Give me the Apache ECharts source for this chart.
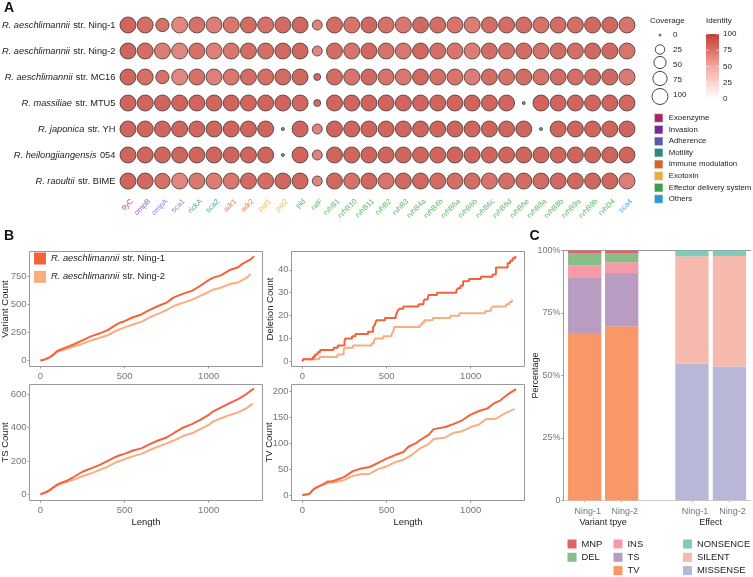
<!DOCTYPE html>
<html><head><meta charset="utf-8">
<style>html,body{margin:0;padding:0;background:#fff}#c{width:753px;height:577px}</style>
<script src="https://cdn.jsdelivr.net/npm/echarts@6/dist/echarts.min.js"></script>
</head><body><div id="c"></div>
<script>
const genes=['tlyC','ompB','ompA','sca1','rickA','sca2','adr1','adr2','pat1','pat2','pld','ralF','rvhB1','rvhB10','rvhB11','rvhB2','rvhB3','rvhB4a','rvhB4b','rvhB6a','rvhB6b','rvhB6c','rvhB6d','rvhB6e','rvhB8a','rvhB8b','rvhB9a','rvhB9b','rvhD4','sca4'];
const geneClass=[0,1,2,2,3,3,4,4,5,5,6,6,6,6,6,6,6,6,6,6,6,6,6,6,6,6,6,6,6,7];
const classNames=['Exoenzyme','Invasion','Adherence','Motility','Immune modulation','Exotoxin','Effector delivery system','Others'];
const classColors=['#a8246a','#74289a','#5a5aa8','#2a8a8a','#d9622b','#e3b13a','#3f9e4d','#2a9ad6'];
const labelColors=['#c0458c','#9a5cc8','#8f82d8','#4aa6a6','#ee7a45','#f0c050','#5cb868','#45aee6'];
const strainItalic=['R. aeschlimannii','R. aeschlimannii','R. aeschlimannii','R. massiliae','R. japonica','R. heilongjiangensis','R. raoultii'];
const strainRest=['str. Ning-1','str. Ning-2','str. MC16','str. MTU5','str. YH','054','str. BIME'];
const identity=[
[99,91,90,78,90,83,87,93,90,94,97,80,93,88,97,89,87,95,92,88,84,92,92,93,89,93,91,95,95,88],
[99,92,84,78,90,82,87,93,91,95,97,78,93,88,97,89,87,95,92,88,83,92,90,93,89,93,91,95,95,88],
[99,91,90,78,90,82,87,93,91,94,97,93,92,88,96,89,87,95,92,88,83,92,90,93,89,93,91,95,95,85],
[99,99,99,99,99,99,99,99,99,99,98,92,99,99,99,99,99,99,99,99,99,99,99,null,99,99,99,99,99,98],
[100,100,100,100,100,100,100,100,100,null,99,80,100,100,100,100,100,100,100,100,100,100,100,100,null,100,100,100,100,100],
[100,100,100,100,100,100,100,100,100,null,99,80,100,100,100,100,100,100,100,100,100,100,100,100,100,100,100,100,100,100],
[99,96,90,78,86,84,87,94,92,97,97,80,96,90,98,88,96,96,94,91,92,88,92,93,94,95,95,97,98,83]];
const coverage=[
[100,100,63,100,100,100,100,100,100,100,100,29,100,100,100,100,100,100,100,100,100,100,100,100,100,100,100,100,100,100],
[100,100,100,100,100,100,100,100,100,100,100,29,100,100,100,100,100,100,100,100,100,100,100,100,100,100,100,100,100,100],
[100,100,63,100,100,100,100,100,100,100,100,9,100,100,100,100,100,100,100,100,100,100,100,100,100,100,100,100,100,100],
[100,100,100,100,100,100,100,100,100,100,100,9,100,100,100,100,100,100,100,100,100,100,100,0,100,100,100,100,100,100],
[100,100,100,100,100,100,100,100,100,0,100,29,100,100,100,100,100,100,100,100,100,100,100,100,0,100,100,100,100,100],
[100,100,100,100,100,100,100,100,100,0,100,29,100,100,100,100,100,100,100,100,100,100,100,100,100,100,100,100,100,100],
[100,100,90,100,100,100,100,100,100,100,100,29,100,100,100,100,100,100,100,100,100,100,100,100,100,100,100,100,100,100]];
const coverageTicks=[0,25,50,75,100];
const identityTicks=[100,75,50,25,0];

const nameN1='R. aeschlimannii str. Ning-1', nameN2='R. aeschlimannii str. Ning-2';
const lenTicks=[0,500,1000];
const variantTicks=[0,250,500,750], deletionTicks=[0,10,20,30,40], tsTicks=[0,200,400,600], tvTicks=[0,50,100,150,200];
const varX1=[0,25,50,75,100,125,150,200,250,300,350,400,450,475,500,550,600,650,700,750,790,850,900,950,1000,1025,1075,1125,1175,1200,1250,1270];
const varY1=[0,10,25,50,85,100,115,145,180,215,240,270,320,338,350,385,410,450,485,515,560,595,620,665,715,735,760,805,830,860,900,928];
const varX2=[0,25,50,75,100,125,150,200,250,300,350,400,450,500,550,600,650,700,750,800,850,900,950,1000,1025,1075,1125,1175,1225,1250];
const varY2=[0,8,22,50,78,90,100,125,150,178,200,225,265,295,320,345,385,415,450,490,515,540,575,610,630,650,680,695,735,771];
const delX1=[0,5,63,75,90,105,185,210,250,255,295,315,390,420,430,440,490,555,560,565,575,600,690,720,725,745,750,800,915,925,940,955,990,1060,1130,1150,1220,1235,1250,1265];
const delY1=[0,1,2,3,4,5,6,7,9,10,11,12,13,15,16,18,19,20,21,22,23,24,25,26,27,28,29,30,31,32,33,35,36,37,38,41,43,44,45,46];
const delX2=[0,5,100,208,245,252,301,412,425,433,480,530,540,545,698,712,724,774,879,933,1087,1120,1131,1210,1230,1245];
const delY2=[0,1,2,3,5,6,7,8,9,10,11,12,13,15,16,17,18,19,20,21,22,23,24,25,26,27];
const tsX1=[0,25,50,75,100,125,150,200,250,300,350,400,450,475,500,550,600,650,700,750,800,850,900,950,1000,1025,1075,1125,1175,1225,1250,1270];
const tsY1=[0,10,22,40,58,70,78,105,135,155,175,200,225,235,242,262,275,300,322,340,370,400,420,445,475,495,520,545,570,600,620,632];
const tsX2=[0,25,50,75,100,125,150,200,250,300,350,400,450,500,550,600,650,700,750,800,850,900,950,1000,1025,1075,1125,1175,1225,1250,1262];
const tsY2=[0,8,20,40,55,65,72,88,108,125,145,165,192,210,228,242,265,285,305,325,350,365,390,415,435,455,475,490,515,535,542];
const tvX1=[0,40,50,60,75,100,125,150,175,200,250,300,350,400,450,500,550,600,630,675,700,750,780,850,900,950,1000,1050,1100,1140,1175,1225,1270];
const tvY1=[0,2,4,9,13,17,21,26,26,29,35,46,51,54,62,70,77,83,93,100,106,116,127,131,137,144,155,162,167,177,182,195,204];
const tvX2=[0,40,50,60,75,100,125,150,200,250,300,350,400,450,500,550,600,650,700,750,780,850,900,950,1000,1050,1090,1150,1200,1262];
const tvY2=[0,2,4,9,13,17,20,23,25,29,37,40,41,50,55,63,68,77,90,98,108,111,120,123,131,136,146,147,157,166];

const barSamples=['Ning-1','Ning-2'];
const TV=[67,69.7],TS=[22,21.3],INS=[5,4.3],DEL=[5,3.7],MNP=[1,1];
const MISSENSE=[54.8,53.6],SILENT=[42.9,44.2],NONSENCE=[2.3,2.2];

const FONT='Liberation Sans';
const GREY='#777', DARK='#222', BORDER='#999';
const sizeOf=c=>3+13*Math.sqrt(c/100);
const colorStops=[[0,[255,255,255]],[50,[242,170,160]],[78,[219,105,95]],[92,[201,72,61]],[100,[196,62,52]]];
const identColor=v=>{ if(v==null) return '#777';
  let i=0; while(i<colorStops.length-2 && v>colorStops[i+1][0]) i++;
  const a=colorStops[i],b=colorStops[i+1],t=(v-a[0])/(b[0]-a[0]);
  return 'rgb('+a[1].map((k,j)=>Math.round(k+t*(b[1][j]-k))).join(',')+')'; };
const zip=(a,b)=>a.map((x,i)=>[x,b[i]]);

const dotData=[];
strainItalic.forEach((s,r)=>genes.forEach((g,c)=>dotData.push([c,r,coverage[r][c],identity[r][c]])));

const grid=[
 {left:119.4,width:516.2,top:12,height:182},
 {left:29.5,width:233,top:251.5,height:115,show:true,borderColor:BORDER,borderWidth:1},
 {left:291.5,width:233,top:251.5,height:115,show:true,borderColor:BORDER,borderWidth:1},
 {left:29.5,width:233,top:384.5,height:116,show:true,borderColor:BORDER,borderWidth:1},
 {left:291.5,width:233,top:384.5,height:116,show:true,borderColor:BORDER,borderWidth:1},
 {left:563.5,width:187,top:250.5,height:250},
 {left:566.2,width:74,top:250.5,height:250},
 {left:673.2,width:75,top:250.5,height:250}
];
grid.forEach(g=>{g.outerBoundsMode='none';});
function lenAxis(i,named){return {gridIndex:i,type:'value',min:-65,max:1320,splitLine:{show:false},
  axisLine:{show:false,onZero:false},axisTick:{show:true,length:2,lineStyle:{color:BORDER},customValues:lenTicks},
  axisLabel:{color:GREY,fontSize:9.5,margin:5,customValues:lenTicks,formatter:v=>String(v)},
  name:named?'Length':'',nameLocation:'center',nameGap:17,nameMoveOverlap:false,nameTextStyle:{color:DARK,fontSize:9.5}};}
function cntAxis(i,name,min,max,ticks,gap){return {gridIndex:i,type:'value',min,max,splitLine:{show:false},
  axisLine:{show:false,onZero:false},axisTick:{show:true,length:2,lineStyle:{color:BORDER},customValues:ticks},
  axisLabel:{color:GREY,fontSize:9.5,margin:3,customValues:ticks,formatter:v=>String(v)},
  name,nameLocation:'center',nameGap:gap,nameMoveOverlap:false,nameTextStyle:{color:DARK,fontSize:9.5}};}
const hiddenAxis=(i)=>({gridIndex:i,type:'value',min:0,max:100,show:false});
function barAxis(i,name){return {gridIndex:i,type:'category',data:barSamples,axisLine:{show:false},
  axisTick:{show:true,length:2,alignWithLabel:true,lineStyle:{color:'#bbb'}},
  axisLabel:{color:GREY,fontSize:9,margin:6.5,padding:[0,0,0,6]},
  name,nameLocation:'center',nameGap:18,nameMoveOverlap:false,nameTextStyle:{color:DARK,fontSize:9}};}
const xAxis=[
 {gridIndex:0,type:'category',data:genes,axisLine:{show:false},axisTick:{show:false},
  axisLabel:{interval:0,rotate:45,fontSize:7.5,margin:2,verticalAlign:'top',lineHeight:12,color:(v,i)=>labelColors[geneClass[genes.indexOf(v)]]}},
 lenAxis(1,false),lenAxis(2,false),lenAxis(3,true),lenAxis(4,true),
 {gridIndex:5,type:'value',position:'top',min:0,max:1,axisLine:{show:true,onZero:false,lineStyle:{color:BORDER}},axisTick:{show:false},axisLabel:{show:false},splitLine:{show:false}},
 {gridIndex:5,type:'value',position:'bottom',min:0,max:1,axisLine:{show:true,onZero:false,lineStyle:{color:'#ccc'}},axisTick:{show:false},axisLabel:{show:false},splitLine:{show:false}},
 barAxis(6,'Variant tpye'),barAxis(7,'Effect')
];
const yAxis=[
 {gridIndex:0,type:'category',inverse:true,data:strainItalic.map((s,i)=>s+'|'+strainRest[i]),axisLine:{show:false},axisTick:{show:false},
  axisLabel:{interval:0,margin:4,formatter:v=>{const p=v.split('|');return '{i|'+p[0]+'} {n|'+p[1]+'}';},
   rich:{i:{fontStyle:'italic',fontSize:9.25,color:DARK},n:{fontSize:9.25,color:DARK}}}},
 cntAxis(1,'Variant Count',-53,970,variantTicks,19),
 cntAxis(2,'Deletion Count',-2.2,48,deletionTicks,16),
 cntAxis(3,'TS Count',-37,657,tsTicks,19),
 cntAxis(4,'TV Count',-10.6,213,tvTicks,17),
 {gridIndex:5,type:'value',min:0,max:100,interval:25,splitLine:{show:false},axisLine:{show:true,onZero:false,lineStyle:{color:BORDER}},
  axisTick:{show:true,length:2,lineStyle:{color:BORDER}},
  axisLabel:{color:GREY,fontSize:9,margin:3,formatter:v=>v===0?'0':v+'%'},
  name:'Percentage',nameLocation:'center',nameGap:23.5,nameMoveOverlap:false,nameTextStyle:{color:DARK,fontSize:9}},
 hiddenAxis(6),hiddenAxis(7)
];
const lineSeries=(name,i,x,y,color,step)=>({name,type:'line',xAxisIndex:i,yAxisIndex:i,data:zip(x,y),showSymbol:false,symbol:'none',step:step?'end':false,
  lineStyle:{color,width:2},itemStyle:{color},z:name===nameN1?4:3});
const barSeries=(name,i,data,color,stack)=>({name,type:'bar',xAxisIndex:i,yAxisIndex:i-1,data,stack,barWidth:33.3,itemStyle:{color}});
const C1='#f4623a',C2='#f8ae80';
const series=[
 {type:'scatter',xAxisIndex:0,yAxisIndex:0,data:dotData,symbolSize:d=>sizeOf(d[2]),
  itemStyle:{color:p=>identColor(p.data[3]),borderColor:'#3c3c3c',borderWidth:1},silent:true},
 lineSeries(nameN2,1,varX2,varY2,C2),lineSeries(nameN1,1,varX1,varY1,C1),
 lineSeries(nameN2,2,delX2,delY2,C2,true),lineSeries(nameN1,2,delX1,delY1,C1,true),
 lineSeries(nameN2,3,tsX2,tsY2,C2),lineSeries(nameN1,3,tsX1,tsY1,C1),
 lineSeries(nameN2,4,tvX2,tvY2,C2),lineSeries(nameN1,4,tvX1,tvY1,C1),
 barSeries('TV',7,TV,'#f99766','v'),barSeries('TS',7,TS,'#b99cc2','v'),barSeries('INS',7,INS,'#f59aa8','v'),barSeries('DEL',7,DEL,'#88bd88','v'),barSeries('MNP',7,MNP,'#e0646a','v'),
 barSeries('MISSENSE',8,MISSENSE,'#b8b7d8','e'),barSeries('SILENT',8,SILENT,'#f6b9ae','e'),barSeries('NONSENCE',8,NONSENCE,'#80cbbc','e')
];

const legendBase={orient:'vertical',icon:'rect',itemWidth:9,itemHeight:9,itemGap:4.3,selectedMode:false,textStyle:{color:DARK,fontSize:9.4},padding:0};
const legend=[
 {orient:'vertical',icon:'rect',left:34,top:252.5,itemWidth:12,itemHeight:12,itemGap:6.4,selectedMode:false,padding:0,
  data:[nameN1,nameN2],
  formatter:n=>{const k=n.indexOf(' str.');return '{i|'+n.slice(0,k)+'} {n|'+n.slice(k+1)+'}';},
  textStyle:{rich:{i:{fontStyle:'italic',fontSize:9.3,color:DARK},n:{fontSize:9.3,color:DARK}}}},
 Object.assign({},legendBase,{left:567.5,top:539.5,data:['MNP','DEL']}),
 Object.assign({},legendBase,{left:613.5,top:539.5,data:['INS','TS','TV']}),
 Object.assign({},legendBase,{left:683,top:539.5,data:['NONSENCE','SILENT','MISSENSE']})
];
const T=(x,y,text,o)=>({type:'text',x,y,silent:true,style:Object.assign({text,fontFamily:FONT,fontSize:8,fill:DARK,verticalAlign:'middle',align:'left'},o||{})});
const graphic=[
 T(4,8,'A',{fontSize:14,fontWeight:'bold',fill:'#111'}),T(4,236,'B',{fontSize:14,fontWeight:'bold',fill:'#111'}),T(529.5,236,'C',{fontSize:14,fontWeight:'bold',fill:'#111'}),
 T(650,21,'Coverage'),T(706,21,'Identity')
];
const covY=[35,49.5,62.5,78.5,96.5], covLabelY=[35,50,65,80,95];
coverageTicks.forEach((c,i)=>{
 graphic.push({type:'circle',silent:true,shape:{cx:660,cy:covY[i],r:sizeOf(c)/2},style:i===0?{fill:'#777'}:{fill:'#fff',stroke:'#444',lineWidth:1}});
 graphic.push(T(673,covLabelY[i],String(c),{fontSize:8}));
});
const cbStops=[100,78,50,0].map(v=>({offset:(100-v)/100,color:identColor(v)}));
graphic.push({type:'rect',silent:true,shape:{x:706,y:34,width:13,height:65},style:{fill:new echarts.graphic.LinearGradient(0,0,0,1,cbStops)}});
identityTicks.forEach((v,i)=>{
 const y=34+65*(100-v)/100;
 graphic.push({type:'line',silent:true,shape:{x1:706,y1:y,x2:709,y2:y},style:{stroke:'#fff',lineWidth:.6}});
 graphic.push({type:'line',silent:true,shape:{x1:716,y1:y,x2:719,y2:y},style:{stroke:'#fff',lineWidth:.6}});
 graphic.push(T(723,y,String(v),{fontSize:8}));
});
const clsY=[118,129.7,141.3,152.7,164.3,176,187.7,199];
classNames.forEach((n,i)=>{
 graphic.push({type:'rect',silent:true,shape:{x:654.5,y:clsY[i]-4.2,width:8.4,height:8.4},style:{fill:classColors[i],stroke:'#ddd',lineWidth:.5}});
 graphic.push(T(668.7,clsY[i],n,{fontSize:7.8}));
});
const chart=echarts.init(document.getElementById('c'),null,{renderer:'canvas'});
chart.setOption({animation:false,backgroundColor:'#fff',textStyle:{fontFamily:FONT},grid,xAxis,yAxis,series,legend,graphic});
</script></body></html>
